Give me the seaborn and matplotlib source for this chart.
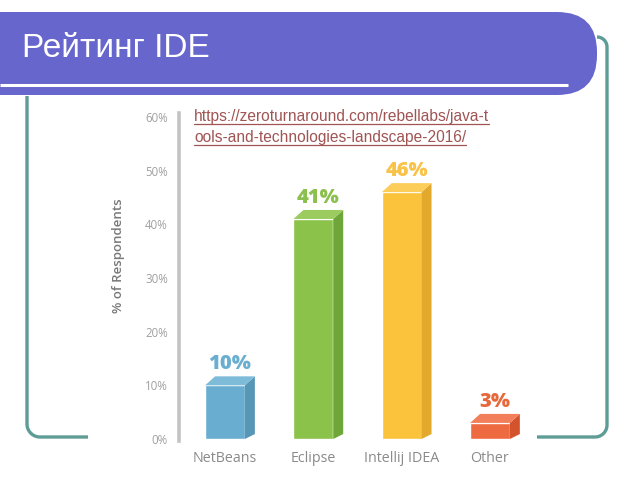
import numpy as np
import pandas as pd
import matplotlib
matplotlib.use("Agg")
import matplotlib.pyplot as plt
from matplotlib.patches import Polygon, FancyBboxPatch
import seaborn as sns

# ---- data ----
categories = ["NetBeans", "Eclipse", "Intellij IDEA", "Other"]
values = [10, 41, 46, 3]
value_labels = ["10%", "41%", "46%", "3%"]
ytick_values = [0, 10, 20, 30, 40, 50, 60]
ytick_labels = ["0%", "10%", "20%", "30%", "40%", "50%", "60%"]
title = "Рейтинг IDE"
url_lines = ["https://zeroturnaround.com/rebellabs/java-t",
             "ools-and-technologies-landscape-2016/"]
y_label = "% of Respondents"

front_colors = ["#69aed0", "#8bc24a", "#fbc33c", "#ee6a40"]
side_colors = ["#5896b6", "#6fa63a", "#e3a92c", "#d4532d"]
top_colors = ["#7dbbd9", "#9ccc60", "#fccd58", "#f27f5a"]
label_colors = ["#6aafd0", "#8cc04e", "#f8c348", "#e8683c"]

sns.set_theme(style="white")
plt.rcParams["font.family"] = ["Open Sans", "DejaVu Sans"]

W, H = 640, 480
fig = plt.figure(figsize=(6.4, 4.8), dpi=100)
fig.patch.set_facecolor("white")

# ---- background (slide decoration) in pixel coordinates ----
bg = fig.add_axes([0, 0, 1, 1], zorder=0)
bg.set_xlim(0, W)
bg.set_ylim(H, 0)
bg.axis("off")

purple = "#6666cc"
teal = "#5e9c96"

def arc(cx, cy, r, t0, t1, n=20):
    t = np.radians(np.linspace(t0, t1, n))
    return cx + r * np.cos(t), cy + r * np.sin(t)

# left frame piece
ax_, ay_ = arc(40, 424, 13, 180, 90)
lx = np.concatenate([[27], ax_, [88]])
ly = np.concatenate([[96], ay_, [437]])
bg.plot(lx, ly, color=teal, lw=2.4, solid_capstyle="butt", zorder=0)
# right frame piece
a1x, a1y = arc(597, 47, 10, 270, 360)
a2x, a2y = arc(595, 425, 12, 0, 90)
rx = np.concatenate([a1x, a2x, [537]])
ry = np.concatenate([a1y, a2y, [437]])
bg.plot(rx, ry, color=teal, lw=2.4, solid_capstyle="butt", zorder=0)

# title bar
bar = FancyBboxPatch((-60, 12), 657, 83,
                     boxstyle="round,pad=0,rounding_size=40",
                     facecolor=purple, edgecolor="none", zorder=1)
bg.add_patch(bar)
bg.plot([0, 568], [85, 85], color="white", lw=2.2, solid_capstyle="butt", zorder=2)
bg.text(22, 57, title, color="white", fontsize=24,
        family=["Liberation Sans", "DejaVu Sans"], va="baseline", ha="left", zorder=3)

# ---- chart axes ----
px_per_unit = (439 - 117) / 60.0
ax_bottom_px = 439 + 0.4 * px_per_unit
ax_top_px = 117 - 0.8 * px_per_unit
left_px, right_px = 179, 560
ax = fig.add_axes([left_px / W, (H - ax_bottom_px) / H,
                   (right_px - left_px) / W, (ax_bottom_px - ax_top_px) / H],
                  zorder=2)
ax.set_facecolor("none")

df = pd.DataFrame({"cat": categories, "val": values})
sns.barplot(data=df, x="cat", y="val", hue="cat", palette=front_colors,
            width=0.45, legend=False, ax=ax, saturation=1, zorder=3)

step = 88.3
ax.set_xlim(-(225 - left_px) / step, 3 + (right_px - 490) / step)
ax.set_ylim(-0.4, 60.8)

for s in ["top", "right", "bottom"]:
    ax.spines[s].set_visible(False)
ax.spines["left"].set_color("#c4c4c4")
ax.spines["left"].set_linewidth(2.6)

ax.set_yticks(ytick_values)
ax.set_yticklabels(ytick_labels)
ax.tick_params(axis="y", length=0, pad=8, labelsize=8.3, labelcolor="#a0a0a0")
ax.tick_params(axis="x", length=0, pad=7, labelsize=10.3, labelcolor="#8a8a8a")
ax.set_xlabel("")
ax.set_ylabel(y_label, fontsize=9.5, color="#787878", fontweight="semibold")
ax_w_px = right_px - left_px
ax.yaxis.set_label_coords((125 - left_px) / ax_w_px,
                          (ax_bottom_px - 256) / (ax_bottom_px - ax_top_px))
ax.grid(False)

# 3D sides and tops from the bars seaborn drew
fig.canvas.draw()
dx, dy = 10, 9
inv = ax.transData.inverted()
bars = [p for p in ax.patches]
for i, p in enumerate(bars):
    x0, y0 = p.get_x(), p.get_y()
    x1, y1 = x0 + p.get_width(), y0 + p.get_height()
    (X0, Y0), (X1, Y1) = ax.transData.transform([(x0, y0), (x1, y1)])
    side = [(X1, Y0), (X1 + dx, Y0 + dy * 0.55), (X1 + dx, Y1 + dy), (X1, Y1)]
    top = [(X0, Y1), (X0 + dx, Y1 + dy), (X1 + dx, Y1 + dy), (X1, Y1)]
    ax.add_patch(Polygon(inv.transform(side), closed=True, facecolor=side_colors[i],
                         edgecolor="none", clip_on=False, zorder=3))
    ax.add_patch(Polygon(inv.transform(top), closed=True, facecolor=top_colors[i],
                         edgecolor="none", clip_on=False, zorder=3))
    cx = (x0 + x1) / 2 + 5 / step
    ax.text(cx, values[i] + 3.0, value_labels[i], ha="center", va="baseline",
            color=label_colors[i], fontsize=14.5, fontweight="heavy", zorder=4)

# ---- URL text (underlined) ----
url_font = ["Liberation Sans", "DejaVu Sans"]
url_color = "#a05454"
for j, (line, base) in enumerate(zip(url_lines, [121, 142])):
    t = bg.text(194, base, line, color=url_color, fontsize=11.2, family=url_font,
                va="baseline", ha="left", zorder=5)
    fig.canvas.draw()
    bb = t.get_window_extent()
    x_end = bg.transData.inverted().transform((bb.x1, bb.y0))[0]
    bg.plot([194, x_end], [base + 2.5, base + 2.5], color=url_color, lw=0.9, zorder=5)

fig.savefig("out.png", dpi=100, facecolor="white")
